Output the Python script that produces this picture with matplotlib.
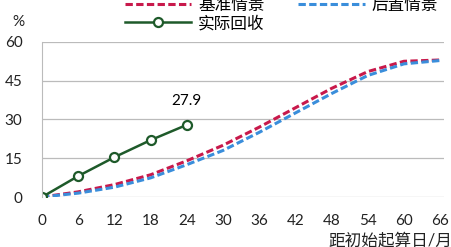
import numpy as np
import matplotlib.pyplot as plt

plt.rcParams['font.family'] = ['Lato', 'Noto Sans CJK SC', 'DejaVu Sans']

months = [0, 6, 12, 18, 24, 30, 36, 42, 48, 54, 60, 66]
baseline = [0, 2, 4.8, 8.6, 14, 20, 27, 34.5, 42, 48.5, 52.5, 53]
delayed = [0, 1.5, 3.8, 7.4, 12.5, 18, 25, 32.5, 40, 47, 51.5, 52.8]
actual_m = [0, 6, 12, 18, 24]
actual = [0, 8.1, 15.4, 22, 27.9]
yticks = [0, 15, 30, 45, 60]

red = '#c8194b'
blue = '#3a8edb'
green = '#1e5a2a'

fig = plt.figure(figsize=(4.52, 2.47), dpi=100)
ax = fig.add_axes([0.093, 0.2024, 0.89, 0.628])

l1, = ax.plot(months, baseline, color=red, ls=(0, (2.4, 1.1)), lw=2.2, label='基准情景')
l2, = ax.plot(months, delayed, color=blue, ls=(0, (2.4, 1.1)), lw=2.2, label='后置情景')
l3, = ax.plot(actual_m, actual, color=green, lw=1.8, marker='o', ms=6.5,
              mfc='white', mec=green, mew=1.6, label='实际回收')
ax.annotate(f'{actual[-1]}', (actual_m[-1], actual[-1]), xytext=(0, 12),
            textcoords='offset points', ha='center', va='bottom', fontsize=11)

ax.set_xlim(0, 66.7)
ax.set_ylim(0, 60)
ax.set_xticks(months)
ax.set_yticks(yticks)
ax.tick_params(length=0, labelsize=11, colors='#222222')
ax.tick_params(axis='x', pad=12)
ax.tick_params(axis='y', pad=14)
ax.grid(axis='y', color='#bbbbbb', lw=0.9)
for s in ['top', 'right', 'bottom']:
    ax.spines[s].set_visible(False)
ax.spines['left'].set_color('#bbbbbb')
ax.set_axisbelow(True)

fig.text(0.04, 0.91, '%', fontsize=11, ha='center', va='center', color='#222222')
fig.text(0.726, 0.025, '距初始起算日/月', fontsize=12, ha='left', va='center', color='#222222')

ax.legend([l1, l3, l2], ['基准情景', '实际回收', '后置情景'], ncol=2, loc='upper left',
          bbox_to_anchor=(0.185, 1.345), frameon=False,
          fontsize=12, handlelength=4, handletextpad=0.4, columnspacing=2.0,
          labelspacing=0.15, borderpad=0)

fig.savefig('out.png', dpi=100)
